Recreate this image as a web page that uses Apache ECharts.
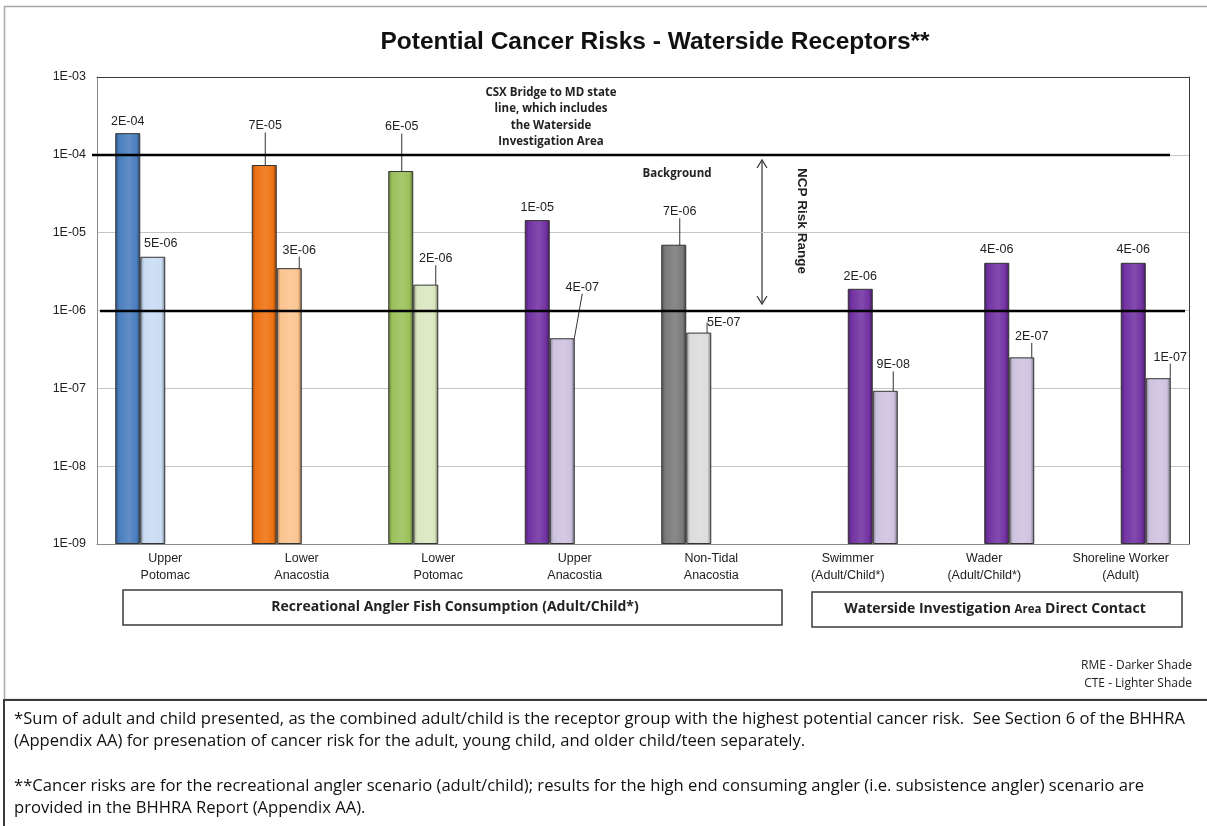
<!DOCTYPE html>
<html>
<head>
<meta charset="utf-8">
<title>Potential Cancer Risks - Waterside Receptors</title>
<script src="https://cdn.jsdelivr.net/npm/echarts@6/dist/echarts.min.js"></script>
<style>
  html, body { margin: 0; padding: 0; background: #fff; }
  #chart { width: 1207px; height: 826px; }
</style>
</head>
<body>
<div id="chart"></div>
<script>
// receptors (x axis)
const categories = ['Upper\nPotomac', 'Lower\nAnacostia', 'Lower\nPotomac', 'Upper\nAnacostia', 'Non-Tidal\nAnacostia',
  'Swimmer\n(Adult/Child*)', 'Wader\n(Adult/Child*)', 'Shoreline Worker\n(Adult)'];
// which box each receptor belongs to
const scenario = ['angler', 'angler', 'angler', 'angler', 'angler', 'contact', 'contact', 'contact'];

// bar heights
const rmeRisk = [1.9e-4, 7.4e-5, 6.2e-5, 1.45e-5, 7.0e-6, 1.9e-6, 4.1e-6, 4.1e-6];
const cteRisk = [4.9e-6, 3.5e-6, 2.15e-6, 4.4e-7, 5.2e-7, 9.3e-8, 2.5e-7, 1.35e-7];
// printed values above the bars
const rmeLabels = ['2E-04', '7E-05', '6E-05', '1E-05', '7E-06', '2E-06', '4E-06', '4E-06'];
const cteLabels = ['5E-06', '3E-06', '2E-06', '4E-07', '5E-07', '9E-08', '2E-07', '1E-07'];

// NCP risk range limits
const riskRange = [1e-4, 1e-6];

// colours (dark = RME, light = CTE)
const rmeColors = ['#4A7EBE', '#EE7211', '#9BC05A', '#7232A2', '#7A7A7A', '#7232A2', '#7232A2', '#7232A2'];
const cteColors = ['#C9DCF4', '#FBC48F', '#DAE7C0', '#CEC3DF', '#DCDCDC', '#CEC3DF', '#CEC3DF', '#CEC3DF'];

// label nudges [dx, dy from bar top to label centre] and whether a leader line is drawn
const rmeLabelOff = [[0, -12], [1, -39], [1, -44], [0, -13], [6, -33], [0, -12], [0, -13], [0, -13]];
const cteLabelOff = [[8, -13], [10, -18], [10, -26], [20, -51], [25, -10], [8, -26], [10, -21], [12, -21]];
const rmeLeader = [false, true, true, false, true, false, false, false];
const cteLeader = [false, true, true, true, true, true, true, true];

const ARIAL = "'Liberation Sans', Arial, sans-serif";
const CALIBRI = "'Open Sans', Lato, sans-serif";

function shade(hex, f) {
  const n = parseInt(hex.slice(1), 16);
  const t = f < 0 ? 0 : 255, p = Math.abs(f);
  const c = [n >> 16, (n >> 8) & 255, n & 255].map(v => Math.round((t - v) * p + v));
  return 'rgb(' + c.join(',') + ')';
}

function barFill(hex) {
  return new echarts.graphic.LinearGradient(0, 0, 1, 0, [
    { offset: 0, color: shade(hex, -0.35) },
    { offset: 0.15, color: hex },
    { offset: 0.55, color: shade(hex, 0.12) },
    { offset: 0.85, color: hex },
    { offset: 1, color: shade(hex, -0.45) }
  ]);
}

function makeSeries(name, group, values, colors, leader) {
  return {
    name: name,
    type: 'bar',
    barWidth: 25,
    barGap: '0%',
    data: values.map((v, i) => scenario[i] !== group ? '-' : {
      value: v,
      itemStyle: { color: barFill(colors[i]) },
      labelLine: { show: leader[i] }
    }),
    itemStyle: { borderColor: '#333', borderWidth: 1 },
    label: {
      show: true,
      position: 'top',
      fontFamily: ARIAL,
      fontSize: 12.5,
      color: '#222'
    },
    labelLine: { show: true, lineStyle: { color: '#333', width: 1 } },
    z: 3
  };
}

const series = [
  makeSeries('RME angler', 'angler', rmeRisk, rmeColors, rmeLeader),
  makeSeries('CTE angler', 'angler', cteRisk, cteColors, cteLeader),
  makeSeries('RME contact', 'contact', rmeRisk, rmeColors, rmeLeader),
  makeSeries('CTE contact', 'contact', cteRisk, cteColors, cteLeader)
];
series.forEach((s, si) => {
  const isRme = si % 2 === 0;
  const labels = isRme ? rmeLabels : cteLabels;
  const offs = isRme ? rmeLabelOff : cteLabelOff;
  s.label.formatter = p => labels[p.dataIndex];
  s.labelLayout = function (p) {
    const o = offs[p.dataIndex];
    return {
      x: p.rect.x + p.rect.width / 2 + o[0],
      y: p.rect.y + o[1],
      align: 'center',
      verticalAlign: 'middle'
    };
  };
});

function expLabel(v) {
  const e = Math.round(Math.log10(v));
  return '1E' + (e < 0 ? '-' : '+') + String(Math.abs(e)).padStart(2, '0');
}

let chart = echarts.init(document.getElementById('chart'), null, { renderer: 'canvas' });
let graphics = [
  // outer chart frame
  { type: 'rect', z: -10, shape: { x: 4.5, y: 6.5, width: 1215, height: 693 },
    style: { fill: 'none', stroke: '#a9a9a9', lineWidth: 1.5 } },
  // footnote box
  { type: 'rect', z: -9, shape: { x: 4, y: 700, width: 1215, height: 140 },
    style: { fill: '#fff', stroke: '#3b3b3b', lineWidth: 2 } },
  { type: 'text',
    style: { text: 'Potential Cancer Risks - Waterside Receptors**', x: 655, y: 42, align: 'center', verticalAlign: 'middle',
      font: "bold 24.5px 'Liberation Sans', Arial, sans-serif", fill: '#111' } },
  { type: 'text',
    style: { text: 'CSX Bridge to MD state\nline, which includes\nthe Waterside\nInvestigation Area', x: 551, y: 84,
      align: 'center', verticalAlign: 'top', lineHeight: 16.5, font: "bold 11.5px 'Open Sans', sans-serif", fill: '#222' } },
  { type: 'text',
    style: { text: 'Background', x: 677, y: 174, align: 'center', verticalAlign: 'middle',
      font: "bold 11.5px 'Open Sans', sans-serif", fill: '#222' } },
  // NCP risk range arrow
  { type: 'line', shape: { x1: 762, y1: 160, x2: 762, y2: 304 }, style: { stroke: '#333', lineWidth: 1.2 } },
  { type: 'polyline', shape: { points: [[757, 168], [762, 160], [767, 168]] }, style: { stroke: '#333', lineWidth: 1.2, fill: 'none' } },
  { type: 'polyline', shape: { points: [[757, 296], [762, 304], [767, 296]] }, style: { stroke: '#333', lineWidth: 1.2, fill: 'none' } },
  { type: 'text', x: 802, y: 221, rotation: -Math.PI / 2,
    style: { text: 'NCP Risk Range', x: 0, y: 0, align: 'center', verticalAlign: 'middle',
      font: "bold 13.5px 'Liberation Sans', Arial, sans-serif", fill: '#222' } },
  // scenario boxes
  { type: 'rect', shape: { x: 123, y: 590, width: 659, height: 35 }, style: { fill: 'none', stroke: '#3b3b3b', lineWidth: 1.5 } },
  { type: 'text',
    style: { text: 'Recreational Angler Fish Consumption (Adult/Child*)', x: 455, y: 607.5, align: 'center', verticalAlign: 'middle',
      font: "bold 14px 'Open Sans', sans-serif", fill: '#222' } },
  { type: 'rect', shape: { x: 812, y: 592, width: 370, height: 35 }, style: { fill: 'none', stroke: '#3b3b3b', lineWidth: 1.5 } },
  { type: 'text',
    style: { text: '{b|Waterside Investigation }{s|Area}{b| Direct Contact}', x: 995, y: 609.5, align: 'center', verticalAlign: 'middle',
      rich: {
        b: { fontFamily: CALIBRI, fontWeight: 'bold', fontSize: 14, fill: '#222' },
        s: { fontFamily: CALIBRI, fontWeight: 'bold', fontSize: 11.5, fill: '#222' }
      } } },
  { type: 'text',
    style: { text: 'RME - Darker Shade\nCTE - Lighter Shade', x: 1192, y: 657, align: 'right', verticalAlign: 'top',
      lineHeight: 17.5, font: "12px 'Open Sans', sans-serif", fill: '#222' } },
  // footnotes
  { type: 'text',
    style: { text: '*Sum of adult and child presented, as the combined adult/child is the receptor group with the highest potential cancer risk.  See Section 6 of the BHHRA\n(Appendix AA) for presenation of cancer risk for the adult, young child, and older child/teen separately.',
      x: 14, y: 708, align: 'left', verticalAlign: 'top', lineHeight: 22, font: "16.6px 'Open Sans', sans-serif", fill: '#111' } },
  { type: 'text',
    style: { text: '**Cancer risks are for the recreational angler scenario (adult/child); results for the high end consuming angler (i.e. subsistence angler) scenario are\nprovided in the BHHRA Report (Appendix AA).',
      x: 14, y: 775, align: 'left', verticalAlign: 'top', lineHeight: 22, font: "16.6px 'Open Sans', sans-serif", fill: '#111' } }
];
let option = {
  backgroundColor: '#fff',
  animation: false,
  grid: { left: 97, right: 18, top: 77, bottom: 282 },
  xAxis: [
    {
      type: 'category',
      data: categories,
      axisLine: { lineStyle: { color: '#8c8c8c' } },
      axisTick: { show: false },
      axisLabel: { fontFamily: ARIAL, fontSize: 12.5, color: '#222', lineHeight: 17, margin: 6, interval: 0 }
    },
    {
      type: 'category',
      position: 'top',
      data: categories,
      axisLine: { lineStyle: { color: '#3b3b3b' } },
      axisTick: { show: false },
      axisLabel: { show: false }
    }
  ],
  yAxis: [
    {
      type: 'log',
      logBase: 10,
      min: 1e-9,
      max: 1e-3,
      startValue: 1e-9,
      splitNumber: 6,
      axisLine: { show: true, lineStyle: { color: '#8c8c8c' } },
      axisTick: { show: false },
      axisLabel: { fontFamily: ARIAL, fontSize: 12.5, color: '#222', margin: 11, formatter: expLabel },
      splitLine: { lineStyle: { color: '#c4c4c4' } }
    },
    {
      type: 'log',
      logBase: 10,
      min: 1e-9,
      max: 1e-3,
      position: 'right',
      axisLine: { show: true, lineStyle: { color: '#3b3b3b' } },
      axisTick: { show: false },
      axisLabel: { show: false },
      splitLine: { show: false }
    }
  ],
  series: series,
  graphic: graphics
};
chart.setOption(option);

// NCP risk range lines, placed through the y scale
const lineSpan = [[92, 1170], [100, 1185]];
chart.setOption({
  graphic: graphics.concat(riskRange.map((v, i) => {
    const y = Math.round(chart.convertToPixel({ yAxisIndex: 0 }, v));
    return { type: 'line', z: 50, shape: { x1: lineSpan[i][0], y1: y, x2: lineSpan[i][1], y2: y },
      style: { stroke: '#000', lineWidth: 2.5 } };
  }))
});
</script>
</body>
</html>
